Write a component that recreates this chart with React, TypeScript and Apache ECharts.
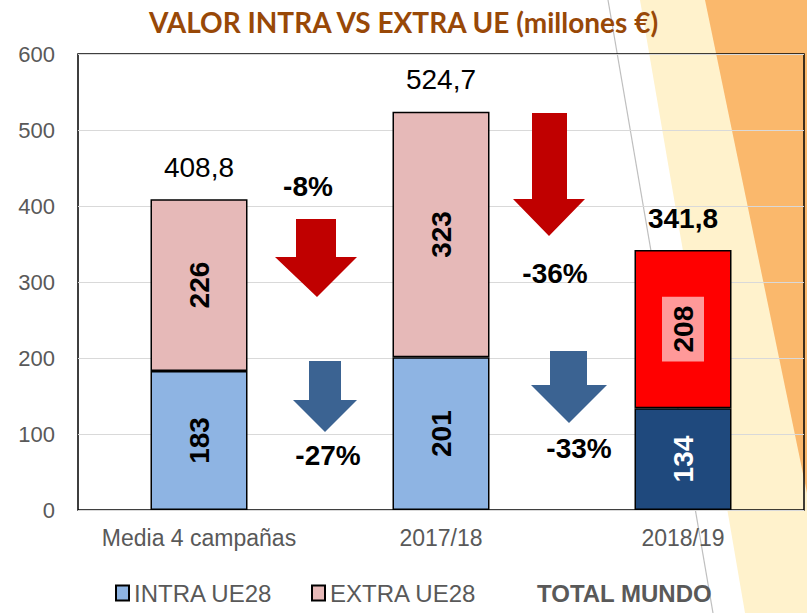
import React, { useEffect, useRef } from "react";
import * as echarts from "echarts";

const categories = ["Media 4 campañas", "2017/18", "2018/19"];
const intraValues = [183, 201, 134];
const extraValues = [226, 323, 208];
const totalValues = [408.8, 524.7, 341.8];
const yTicks = [0, 100, 200, 300, 400, 500, 600];
const changeLabels = ["-8%", "-27%", "-36%", "-33%"];

const intraColors = ["#8EB4E3", "#8EB4E3", "#1F497D"];
const extraColors = ["#E6B9B8", "#E6B9B8", "#FF0000"];
const FONT = "'Liberation Sans', Arial, sans-serif";

export default function App() {
  const ref = useRef<HTMLDivElement>(null);
  useEffect(() => {
    if (!ref.current) return;
    const chart = echarts.init(ref.current, undefined, { renderer: "svg" });
    const fmt = (v: number) => v.toFixed(1).replace(".", ",");
    const arrow = (pts: number[][], color: string) => ({
      type: "polygon",
      shape: { points: pts },
      style: { fill: color },
      z: 10,
      silent: true,
    });
    const pct = (text: string, x: number, y: number) => ({
      type: "text",
      x,
      y,
      z: 10,
      silent: true,
      style: {
        text,
        fill: "#000",
        font: `bold 28px ${FONT}`,
        textAlign: "center",
        textVerticalAlign: "middle",
        align: "center",
        verticalAlign: "middle",
      },
    });
    const legendBase = {
      top: 576,
      itemWidth: 13,
      itemHeight: 15,
      itemGap: 0,
      icon: "rect",
      itemStyle: { borderColor: "#000", borderWidth: 2 },
      textStyle: { color: "#595959", fontSize: 24, fontFamily: FONT },
    };
    chart.setOption({
      animation: false,
      title: {
        text: "VALOR INTRA VS EXTRA UE (millones €)",
        left: "center",
        top: 3,
        textStyle: { fontFamily: "Lato", fontWeight: "bold", fontSize: 28, color: "#984807" },
      },
      grid: {
        left: 78,
        right: 3,
        top: 54,
        bottom: 103,
        show: true,
        borderColor: "#000",
        borderWidth: 1.5,
        backgroundColor: "transparent",
      },
      xAxis: {
        type: "category",
        data: categories,
        axisTick: { show: false },
        axisLine: { show: false },
        axisLabel: { color: "#595959", fontSize: 23, margin: 16, interval: 0, fontFamily: FONT },
      },
      yAxis: {
        type: "value",
        min: yTicks[0],
        max: yTicks[yTicks.length - 1],
        interval: 100,
        axisLine: { show: false },
        axisTick: { show: false },
        axisLabel: { color: "#595959", fontSize: 22, margin: 23, fontFamily: FONT },
        splitLine: { lineStyle: { color: "#D9D9D9", width: 1 } },
      },
      legend: [
        { ...legendBase, data: ["INTRA UE28"], left: 110 },
        { ...legendBase, data: ["EXTRA UE28"], left: 306 },
        {
          data: [{ name: "TOTAL MUNDO", icon: "none" }],
          left: 527,
          top: 576,
          itemWidth: 0,
          itemHeight: 15,
          textStyle: { color: "#595959", fontSize: 24, fontWeight: "bold", fontFamily: FONT },
        },
      ],
      graphic: [
        {
          type: "polygon",
          shape: { points: [[640, 0], [807, 0], [807, 613], [745, 613]] },
          style: { fill: "#FFF2CC" },
          z: -3,
          silent: true,
        },
        {
          type: "polygon",
          shape: { points: [[705, 0], [807, 0], [807, 493]] },
          style: { fill: "#FAB86C" },
          z: -2,
          silent: true,
        },
        {
          type: "line",
          shape: { x1: 608, y1: 0, x2: 713, y2: 613 },
          style: { stroke: "#BFBFBF", lineWidth: 1.2 },
          z: -1,
          silent: true,
        },
        arrow([[296, 219], [336, 219], [336, 257], [357, 257], [317, 297], [275, 257], [296, 257]], "#C00000"),
        arrow([[309, 361], [341, 361], [341, 400], [357, 400], [325, 432], [293, 400], [309, 400]], "#3B6392"),
        arrow([[532, 113], [567, 113], [567, 199], [585, 199], [549, 236], [513, 199], [532, 199]], "#C00000"),
        arrow([[550, 351], [587, 351], [587, 385], [607, 385], [569, 423], [531, 385], [550, 385]], "#3B6392"),
        pct(changeLabels[0], 308, 186),
        pct(changeLabels[1], 328, 455),
        pct(changeLabels[2], 555, 273),
        pct(changeLabels[3], 579, 448),
      ],
      series: [
        {
          name: "INTRA UE28",
          type: "bar",
          stack: "total",
          barWidth: 97,
          itemStyle: { color: intraColors[0], borderColor: "#000", borderWidth: 1.5 },
          label: {
            show: true,
            position: "inside",
            rotate: 90,
            fontSize: 28,
            fontWeight: "bold",
            fontFamily: FONT,
            color: "#000",
          },
          data: intraValues.map((v, i) => ({
            value: v,
            itemStyle: { color: intraColors[i] },
            label: i === 2 ? { color: "#fff" } : {},
          })),
          z: 2,
        },
        {
          name: "EXTRA UE28",
          type: "bar",
          stack: "total",
          barWidth: 97,
          itemStyle: { color: extraColors[0], borderColor: "#000", borderWidth: 1.5 },
          label: {
            show: true,
            position: "inside",
            rotate: 90,
            fontSize: 28,
            fontWeight: "bold",
            fontFamily: FONT,
            color: "#000",
          },
          data: extraValues.map((v, i) => ({
            value: v,
            itemStyle: { color: extraColors[i] },
            label: i === 2 ? { backgroundColor: "#FF9999", padding: [7, 9] } : {},
          })),
          z: 2,
        },
        {
          name: "TOTAL MUNDO",
          type: "bar",
          stack: "total",
          barWidth: 97,
          itemStyle: { color: "rgba(0,0,0,0)", borderWidth: 0 },
          label: {
            show: true,
            position: "top",
            distance: 18,
            fontSize: 28,
            fontFamily: FONT,
            color: "#000",
            formatter: (p: any) => fmt(totalValues[p.dataIndex]),
          },
          data: totalValues.map((_, i) => ({
            value: 0,
            label: i === 2 ? { fontWeight: "bold" } : { fontWeight: "normal" },
          })),
          z: 5,
        },
      ],
    });
    return () => chart.dispose();
  }, []);
  return (
    <div
      ref={ref}
      style={{ position: "absolute", left: 0, top: 0, width: 807, height: 613, background: "#fff" }}
    />
  );
}
